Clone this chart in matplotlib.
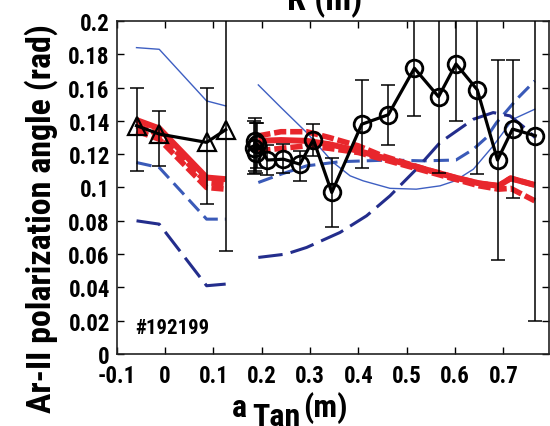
import matplotlib
matplotlib.use("Agg")
import matplotlib.pyplot as plt

plt.rcParams['font.family'] = ['Roboto Condensed', 'DejaVu Sans']
plt.rcParams['font.weight'] = 'bold'

# measured polarization angles (triangles: core side, circles: edge side)
tri_x = [-0.059, -0.012, 0.086, 0.1255]
tri_y = [0.1371, 0.1321, 0.1271, 0.1347]
tri_lo = [0.0274, 0.019, 0.037, 0.0727]
tri_hi = [0.0225, 0.0138, 0.0325, 0.075]

circ_x = [0.184, 0.187, 0.189, 0.191, 0.212, 0.245, 0.279, 0.307, 0.345,
          0.407, 0.462, 0.516, 0.566, 0.602, 0.646, 0.688, 0.719, 0.766]
circ_y = [0.124, 0.128, 0.121, 0.126, 0.1165, 0.117, 0.114, 0.1287, 0.097,
          0.138, 0.1437, 0.1716, 0.1545, 0.1742, 0.1587, 0.1165, 0.1351, 0.1311]
circ_lo = [0.016, 0.018, 0.012, 0.014, 0.009, 0.008, 0.010, 0.0097, 0.021,
           0.026, 0.018, 0.0285, 0.046, 0.034, 0.0506, 0.060, 0.0416, 0.111]
circ_hi = [0.016, 0.014, 0.018, 0.013, 0.009, 0.009, 0.008, 0.0093, 0.0205,
           0.0266, 0.018, 0.05, 0.06, 0.05, 0.06, 0.060, 0.0415, 0.111]

# modelled curves, left segment
mod_xl = [-0.059, -0.012, 0.086, 0.1255]
thin_l = [0.184, 0.183, 0.152, 0.149]
mid_l = [0.115, 0.112, 0.081, 0.081]
navy_l = [0.080, 0.078, 0.041, 0.042]
red_l = [0.1405, 0.1355, 0.106, 0.105]
red_up_l = [0.137, 0.132, 0.103, 0.102]
red_lo_l = [0.134, 0.129, 0.100, 0.099]

# modelled curves, right segment
thin_xr = [0.193, 0.24, 0.293, 0.348, 0.383, 0.41, 0.4655, 0.52, 0.569,
           0.6, 0.638, 0.679, 0.72, 0.765]
thin_r = [0.1616, 0.148, 0.133, 0.115, 0.107, 0.104, 0.0995, 0.099, 0.101,
          0.104, 0.111, 0.125, 0.141, 0.147]
mid_xr = [0.193, 0.24, 0.293, 0.362, 0.4655, 0.534, 0.602, 0.638, 0.665,
          0.686, 0.707, 0.7276, 0.765]
mid_r = [0.103, 0.108, 0.113, 0.1155, 0.1165, 0.116, 0.1165, 0.123, 0.130,
         0.139, 0.146, 0.153, 0.164]
navy_xr = [0.193, 0.25, 0.293, 0.362, 0.417, 0.4655, 0.52, 0.569, 0.638,
           0.679, 0.714, 0.748, 0.7655]
navy_r = [0.058, 0.060, 0.064, 0.073, 0.083, 0.095, 0.111, 0.127, 0.141,
          0.145, 0.143, 0.135, 0.130]
red_xr = [0.193, 0.24, 0.293, 0.34, 0.40, 0.45, 0.50, 0.55, 0.60, 0.65,
          0.69, 0.715, 0.765]
red_r = [0.128, 0.1285, 0.128, 0.126, 0.122, 0.118, 0.114, 0.110, 0.106,
         0.1025, 0.101, 0.1055, 0.1015]
red_up_r = [0.131, 0.1335, 0.1335, 0.130, 0.125, 0.119, 0.1145, 0.110, 0.106,
            0.1025, 0.101, 0.1055, 0.1015]
red_lo_r = [0.122, 0.1235, 0.125, 0.1235, 0.121, 0.117, 0.113, 0.109, 0.105,
            0.101, 0.099, 0.0995, 0.092]

xticks = [-0.1, 0, 0.1, 0.2, 0.3, 0.4, 0.5, 0.6, 0.7]
yticks = [0, 0.02, 0.04, 0.06, 0.08, 0.1, 0.12, 0.14, 0.16, 0.18, 0.2]

red = '#e8262c'
thin_blue = '#3e5fc2'
mid_blue = '#3a5ab8'
navy = '#232d8c'

fig = plt.figure(figsize=(5.5, 4.27), dpi=100)
ax = fig.add_axes([0.2122, 0.1686, 0.786, 0.7799])


def model_set(x_thin, y_thin, x_mid, y_mid, x_navy, y_navy, x_red, y_red, y_up, y_lo):
    ax.plot(x_thin, y_thin, color=thin_blue, lw=1.0, zorder=2)
    ax.plot(x_mid, y_mid, color=mid_blue, lw=2.2, dashes=(5, 2.3), zorder=2)
    ax.plot(x_navy, y_navy, color=navy, lw=2.2, dashes=(8, 2.7), zorder=2)
    ax.plot(x_red, y_red, color=red, lw=4.3, zorder=3, solid_capstyle='butt')
    ax.plot(x_red, y_up, color=red, lw=4.0, dashes=(2.2, 0.7), zorder=3)
    ax.plot(x_red, y_lo, color=red, lw=4.0, dashes=(2.2, 0.7), zorder=3)


model_set(mod_xl, thin_l, mod_xl, mid_l, mod_xl, navy_l, mod_xl, red_l, red_up_l, red_lo_l)
model_set(thin_xr, thin_r, mid_xr, mid_r, navy_xr, navy_r, red_xr, red_r, red_up_r, red_lo_r)

ax.errorbar(tri_x, tri_y, yerr=[tri_lo, tri_hi], fmt='none', ecolor='black',
            elinewidth=1.1, capsize=5, capthick=1.1, zorder=4)
ax.plot(tri_x, tri_y, color='black', lw=2.3, marker='^', markersize=13,
        markerfacecolor='none', markeredgewidth=1.6, zorder=5)

ax.errorbar(circ_x, circ_y, yerr=[circ_lo, circ_hi], fmt='none', ecolor='black',
            elinewidth=1.1, capsize=5, capthick=1.1, zorder=4)
ax.plot(circ_x, circ_y, color='black', lw=2.3, marker='o', markersize=12,
        markerfacecolor='none', markeredgewidth=2.0, zorder=5)

ax.set_xlim(-0.1, 0.7945)
ax.set_ylim(0, 0.2)
ax.set_xticks(xticks)
ax.set_yticks(yticks)
ax.set_xticklabels(['%g' % v for v in xticks])
ax.set_yticklabels(['%g' % v for v in yticks])
ax.tick_params(direction='in', length=5, width=1, top=True, right=True,
               labelsize=16.5)
ax.tick_params(axis='y', pad=5)
ax.tick_params(axis='x', pad=7)
for s in ax.spines.values():
    s.set_linewidth(1.2)
    s.set_color('#222222')

ax.text(-0.062, 0.016, '#192199', fontsize=15, fontweight='bold',
        va='center', ha='left')

ax.set_ylabel('Ar-II polarization angle (rad)', fontsize=24.5, fontweight='bold')
ax.yaxis.set_label_coords(-0.136, 0.41)

# x axis label with lowered "Tan"
fig.text(232 / 550, 1 - 417 / 427, 'a', fontsize=23, fontweight='bold',
         va='baseline', ha='left')
fig.text(252 / 550, 1 - 426 / 427, 'Tan', fontsize=23, fontweight='bold',
         va='baseline', ha='left')
fig.text(303 / 550, 1 - 417 / 427, '(m)', fontsize=23, fontweight='bold',
         va='baseline', ha='left')

# top axis title, mostly above the frame
fig.text(325 / 550, 1 - 10 / 427, 'R (m)', fontsize=25, fontweight='bold',
         va='baseline', ha='center')

fig.savefig('out.png', dpi=100)
